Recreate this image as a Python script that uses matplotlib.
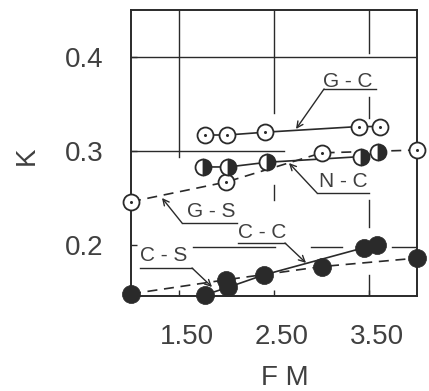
import matplotlib
matplotlib.use("Agg")
import matplotlib.pyplot as plt
from matplotlib.transforms import ScaledTranslation

plt.rcParams['font.family'] = ['Liberation Sans', 'DejaVu Sans']

# ---- data -------------------------------------------------------------
# fineness modulus of the gravel-type mixes (solid lines)
fm_gc = [1.78, 2.01, 2.41, 3.39, 3.61]
k_gc = [0.317, 0.317, 0.320, 0.326, 0.326]

fm_nc = [1.76, 2.02, 2.43, 3.41, 3.59]
k_nc = [0.283, 0.283, 0.288, 0.294, 0.299]

fm_cc = [1.78, 2.02, 2.39, 3.44, 3.58]
k_cc = [0.147, 0.155, 0.168, 0.197, 0.200]

# sand-type mixes (dashed lines)
fm_gs = [1.0, 2.0, 3.0, 4.0]
k_gs = [0.246, 0.267, 0.298, 0.301]

fm_cs = [1.0, 2.0, 3.0, 4.0]
k_cs = [0.148, 0.163, 0.177, 0.186]

x_ticks = [1.5, 2.5, 3.5]
x_tick_labels = ['1.50', '2.50', '3.50']
y_ticks = [0.2, 0.3, 0.4]
y_tick_labels = ['0.2', '0.3', '0.4']

INK = '#2a2a2a'
TXT = '#404040'

fig = plt.figure(figsize=(4.29, 3.91), dpi=100)
ax = fig.add_axes([131 / 429, 1 - 296 / 391, 286 / 429, 286 / 391])
ax.set_xlim(1.0, 4.0)
ax.set_ylim(0.1457, 0.45)

for s in ax.spines.values():
    s.set_color(INK)
    s.set_linewidth(1.4)

# broken drafting grid
glw = 1.0
ax.plot([1.0, 4.0], [0.4, 0.4], color=INK, lw=glw, zorder=1)
ax.plot([1.0, 2.6], [0.3, 0.3], color=INK, lw=glw, zorder=1)
for a, b in [(1.65, 2.51), (2.89, 3.21), (3.74, 4.0)]:
    ax.plot([a, b], [0.198, 0.198], color=INK, lw=glw, zorder=1)
ax.plot([1.5, 1.5], [0.294, 0.45], color=INK, lw=glw, zorder=1)
for a, b in [(0.340, 0.45), (0.248, 0.264)]:
    ax.plot([2.5, 2.5], [a, b], color=INK, lw=glw, zorder=1)
for a, b in [(0.404, 0.45), (0.335, 0.357), (0.219, 0.248), (0.1457, 0.168)]:
    ax.plot([3.5, 3.5], [a, b], color=INK, lw=glw, zorder=1)

# connecting lines
lw = 1.2
dash = (0, (6, 4))
ax.plot(fm_gc, k_gc, color=INK, lw=lw, zorder=2)
ax.plot(fm_nc, k_nc, color=INK, lw=lw, zorder=2)
ax.plot(fm_cc, k_cc, color=INK, lw=lw, zorder=2)
ax.plot(fm_gs, k_gs, color=INK, lw=lw, ls=dash, zorder=2)
ax.plot(fm_cs, k_cs, color=INK, lw=lw, ls=dash, zorder=2)

ms = 11.5
mew = 1.3


def dotted_circles(x, y):
    ax.plot(x, y, ls='none', marker='o', ms=ms, mfc='white', mec=INK,
            mew=mew, zorder=4, clip_on=False)
    ax.plot(x, y, ls='none', marker='o', ms=2.2, mfc=INK, mec=INK,
            mew=0, zorder=5, clip_on=False)


dotted_circles(fm_gc, k_gc)
dotted_circles(fm_gs, k_gs)
ax.plot(fm_nc, k_nc, ls='none', marker='o', ms=ms, fillstyle='right',
        mfc=INK, markerfacecoloralt='white', mec=INK, mew=mew, zorder=4,
        clip_on=False)
ax.plot(fm_cc, k_cc, ls='none', marker='o', ms=13, mfc=INK, mec=INK,
        mew=0.5, zorder=4, clip_on=False)
ax.plot(fm_cs, k_cs, ls='none', marker='o', ms=13, mfc=INK, mec=INK,
        mew=0.5, zorder=4, clip_on=False)

# series labels with underline and leader arrow
labels = [
    ('G - C', (3.276, 0.3734), (3.025, 3.570, 0.366), (3.025, 0.366), (2.731, 0.3234)),
    ('N - C', (3.224, 0.2670), (2.951, 3.497, 0.2553), (2.951, 0.2553), (2.657, 0.2872)),
    ('G - S', (1.839, 0.2351), (1.535, 2.112, 0.2234), (1.535, 0.2234), (1.325, 0.2500)),
    ('C - S', (1.346, 0.1883), (1.094, 1.640, 0.1755), (1.640, 0.1755), (1.850, 0.1553)),
    ('C - C', (2.374, 0.2128), (2.122, 2.615, 0.2021), (2.615, 0.2021), (2.836, 0.1809)),
]
for txt, tpos, (u0, u1, uy), start, tip in labels:
    ax.text(*tpos, txt, ha='center', va='center', fontsize=15, color=TXT,
            zorder=6)
    ax.plot([u0, u1], [uy, uy], color=INK, lw=1.0, zorder=3)
    ax.annotate('', xy=tip, xytext=start,
                arrowprops=dict(arrowstyle='->', color=INK, lw=1.0,
                                shrinkA=0, shrinkB=0, mutation_scale=11),
                zorder=3)

# ticks
ax.set_xticks(x_ticks, x_tick_labels)
ax.set_yticks(y_ticks, y_tick_labels)
ax.tick_params(axis='both', direction='in', length=4, width=1.0,
               color=INK, labelsize=20, labelcolor=TXT)
ax.tick_params(axis='x', pad=20)
ax.tick_params(axis='y', pad=20)
shift = ScaledTranslation(8 / 100, 0, fig.dpi_scale_trans)
for lab in ax.get_xticklabels():
    lab.set_transform(lab.get_transform() + shift)

fig.text(27 / 429, 1 - 156 / 391, 'K', rotation=90, ha='center',
         va='center', fontsize=20, color=TXT)
fig.text(285 / 429, 1 - 378 / 391, 'F M', ha='center', va='center',
         fontsize=20, color=TXT)

fig.savefig('out.png', dpi=100, facecolor='white')
